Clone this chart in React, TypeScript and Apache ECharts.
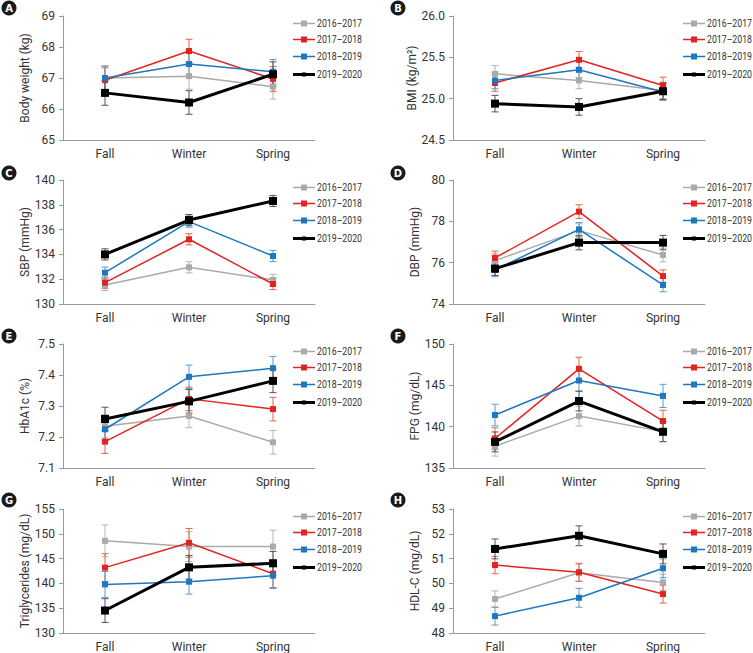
import React, { useEffect, useRef } from 'react';
import * as echarts from 'echarts';

const categories = ['Fall', 'Winter', 'Spring'];
const seasons = ['2016–2017', '2017–2018', '2018–2019', '2019–2020'];
const panelLetters = ['A', 'B', 'C', 'D', 'E', 'F', 'G', 'H'];
const panelTitles = [
  'Body weight (kg)', 'BMI (kg/m²)', 'SBP (mmHg)', 'DBP (mmHg)',
  'HbA1c (%)', 'FPG (mg/dL)', 'Triglycerides (mg/dL)', 'HDL-C (mg/dL)',
];
const axisMin = [65, 24.5, 130, 74, 7.1, 135, 130, 48];
const axisMax = [69, 26.0, 140, 80, 7.5, 150, 155, 53];
const axisStep = [1, 0.5, 2, 2, 0.1, 5, 5, 1];
const axisDecimals = [0, 1, 0, 0, 1, 0, 0, 0];

// means per panel: rows = seasons (2016–17, 2017–18, 2018–19, 2019–20), cols = Fall, Winter, Spring
const weightMean = [[67.0, 67.06, 66.72], [66.93, 67.87, 66.97], [67.0, 67.45, 67.2], [66.52, 66.21, 67.12]];
const weightErr = [[0.4, 0.42, 0.4], [0.4, 0.38, 0.4], [0.38, 0.4, 0.4], [0.4, 0.38, 0.4]];
const bmiMean = [[25.3, 25.22, 25.1], [25.19, 25.47, 25.16], [25.22, 25.35, 25.08], [24.94, 24.9, 25.09]];
const bmiErr = [[0.1, 0.1, 0.1], [0.1, 0.1, 0.1], [0.1, 0.1, 0.1], [0.1, 0.1, 0.1]];
const sbpMean = [[131.53, 132.96, 131.94], [131.72, 135.22, 131.61], [132.53, 136.64, 133.87], [134.0, 136.77, 138.31]];
const sbpErr = [[0.45, 0.45, 0.45], [0.45, 0.45, 0.45], [0.45, 0.45, 0.45], [0.45, 0.45, 0.45]];
const dbpMean = [[76.1, 77.55, 76.37], [76.23, 78.47, 75.35], [75.65, 77.61, 74.92], [75.71, 76.97, 76.97]];
const dbpErr = [[0.33, 0.33, 0.33], [0.33, 0.33, 0.3], [0.33, 0.33, 0.33], [0.33, 0.35, 0.35]];
const hba1cMean = [[7.235, 7.268, 7.183], [7.185, 7.323, 7.29], [7.225, 7.394, 7.422], [7.258, 7.315, 7.381]];
const hba1cErr = [[0.038, 0.038, 0.038], [0.038, 0.038, 0.038], [0.038, 0.038, 0.038], [0.038, 0.038, 0.038]];
const fpgMean = [[137.64, 141.28, 139.4], [138.57, 147.0, 140.68], [141.41, 145.58, 143.72], [138.16, 143.1, 139.38]];
const fpgErr = [[1.2, 1.2, 1.2], [1.3, 1.4, 1.3], [1.3, 1.3, 1.4], [1.2, 1.2, 1.2]];
const tgMean = [[148.58, 147.43, 147.43], [143.18, 148.18, 141.96], [139.8, 140.34, 141.55], [134.53, 143.24, 144.05]];
const tgErr = [[3.2, 3.0, 3.3], [2.8, 2.9, 2.8], [2.6, 2.5, 2.6], [2.4, 2.4, 2.4]];
const hdlMean = [[49.37, 50.43, 50.04], [50.74, 50.45, 49.57], [48.68, 49.42, 50.61], [51.39, 51.92, 51.19]];
const hdlErr = [[0.33, 0.35, 0.33], [0.35, 0.36, 0.36], [0.36, 0.38, 0.38], [0.4, 0.4, 0.4]];

const panelMeans = [weightMean, bmiMean, sbpMean, dbpMean, hba1cMean, fpgMean, tgMean, hdlMean];
const panelErrs = [weightErr, bmiErr, sbpErr, dbpErr, hba1cErr, fpgErr, tgErr, hdlErr];

const seriesColors = ['#aaaaaa', '#e2231f', '#1f77bd', '#000000'];
const errColors = ['#b5b5b5', '#e0664a', '#5a9ad0', '#555555'];
const lineWidths = [1.5, 1.5, 1.5, 3];
const symbolSizes = [6, 6, 6, 8];
const legendMarkerSizes = [6, 6, 6, 4];
const legendRowOffsets = [0, 16, 33, 51];

const FONT = 'Roboto, sans-serif';

export default function App() {
  const ref = useRef<HTMLDivElement>(null);
  useEffect(() => {
    if (!ref.current) return;
    const chart = echarts.init(ref.current, undefined, { renderer: 'svg' });

    const colLeft = [63, 453];
    const rowTop = [16, 180, 344, 509];
    const gw = 252;
    const gh = 124;

    const grids: any[] = [];
    const xAxes: any[] = [];
    const yAxes: any[] = [];
    const lineSeries: any[] = [];
    const errSeries: any[] = [];
    const graphics: any[] = [];

    for (let p = 0; p < 8; p++) {
      const col = p % 2;
      const row = Math.floor(p / 2);
      grids.push({ left: colLeft[col], top: rowTop[row], width: gw, height: gh });
      xAxes.push({
        type: 'category', gridIndex: p, data: categories, boundaryGap: true,
        axisLine: { lineStyle: { color: '#9a9a9a', width: 1 } },
        axisTick: { show: false },
        axisLabel: { color: '#333', fontSize: 12, fontFamily: FONT, margin: 8 },
      });
      const dec = axisDecimals[p];
      yAxes.push({
        type: 'value', gridIndex: p, min: axisMin[p], max: axisMax[p], interval: axisStep[p],
        name: panelTitles[p], nameLocation: 'middle', nameGap: 32,
        nameTextStyle: { color: '#333', fontSize: 12, fontFamily: FONT },
        axisLine: { show: true, lineStyle: { color: '#9a9a9a', width: 1 } },
        axisTick: { show: true, inside: false, length: 4, lineStyle: { color: '#9a9a9a' } },
        splitLine: { show: false },
        axisLabel: {
          color: '#333', fontSize: 12, fontFamily: FONT, margin: 8,
          formatter: (v: number) => v.toFixed(dec),
        },
      });
      for (let s = 0; s < 4; s++) {
        const mean = panelMeans[p][s];
        const err = panelErrs[p][s];
        lineSeries.push({
          type: 'line', name: seasons[s], xAxisIndex: p, yAxisIndex: p,
          data: mean, symbol: 'rect', symbolSize: symbolSizes[s],
          itemStyle: { color: seriesColors[s] },
          lineStyle: { color: seriesColors[s], width: lineWidths[s] },
          z: 3 + s,
        });
        const ec = errColors[s];
        errSeries.push({
          type: 'custom', name: 'err' + p + '-' + s, xAxisIndex: p, yAxisIndex: p,
          data: mean.map((m, i) => [i, m - err[i], m + err[i]]),
          encode: { x: 0, y: [1, 2] },
          z: 2,
          silent: true,
          renderItem: (params: any, api: any) => {
            const lo = api.coord([api.value(0), api.value(1)]);
            const hi = api.coord([api.value(0), api.value(2)]);
            const hw = 3.5;
            const style = { stroke: ec, lineWidth: 1 };
            return {
              type: 'group',
              children: [
                { type: 'line', shape: { x1: hi[0], y1: hi[1], x2: lo[0], y2: lo[1] }, style },
                { type: 'line', shape: { x1: hi[0] - hw, y1: hi[1], x2: hi[0] + hw, y2: hi[1] }, style },
                { type: 'line', shape: { x1: lo[0] - hw, y1: lo[1], x2: lo[0] + hw, y2: lo[1] }, style },
              ],
            };
          },
        });
      }
      // legend drawn as graphic (condensed text)
      const lx = col === 0 ? 293 : 683;
      const ly0 = rowTop[row] + 7.5;
      for (let s = 0; s < 4; s++) {
        const y = ly0 + legendRowOffsets[s];
        const ms = legendMarkerSizes[s];
        graphics.push({
          type: 'line', shape: { x1: lx, y1: y, x2: lx + 22, y2: y },
          style: { stroke: seriesColors[s], lineWidth: lineWidths[s] },
        });
        graphics.push({
          type: 'rect', shape: { x: lx + 11 - ms / 2, y: y - ms / 2, width: ms, height: ms },
          style: { fill: seriesColors[s] },
        });
        graphics.push({
          type: 'text', x: lx + 24, y, scaleX: 0.76,
          style: {
            text: seasons[s], fill: '#333', font: '11.5px Roboto, sans-serif',
            textAlign: 'left', textVerticalAlign: 'middle',
          },
        });
      }
      const cx = col === 0 ? 9 : 398;
      const cy = [8, 173, 336, 500][row];
      graphics.push({
        type: 'circle', shape: { cx, cy, r: 7.5 }, style: { fill: '#1a1a1a' },
      });
      graphics.push({
        type: 'text', x: cx, y: cy,
        style: {
          text: panelLetters[p], fill: '#fff', font: 'bold 10px "DejaVu Sans", sans-serif',
          textAlign: 'center', textVerticalAlign: 'middle',
        },
      });
    }

    chart.setOption({
      animation: false,
      backgroundColor: '#fff',
      grid: grids,
      xAxis: xAxes,
      yAxis: yAxes,
      graphic: graphics,
      series: [...lineSeries, ...errSeries],
    });
    return () => chart.dispose();
  }, []);
  return <div ref={ref} style={{ width: 753, height: 653, position: 'absolute', left: 0, top: 0 }} />;
}
